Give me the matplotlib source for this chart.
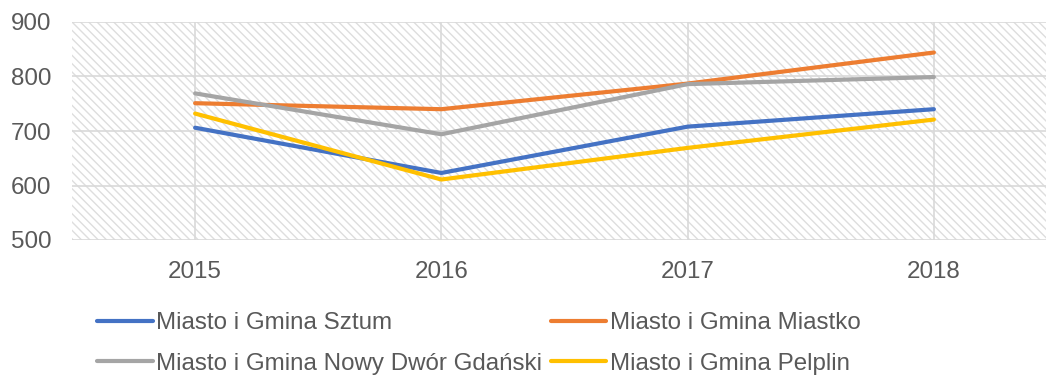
import numpy as np
import matplotlib.pyplot as plt
from matplotlib.patches import Rectangle

plt.rcParams['font.family'] = ['Liberation Sans', 'DejaVu Sans']
plt.rcParams['hatch.linewidth'] = 1.0
plt.rcParams['hatch.color'] = '#dedede'

years = ['2015', '2016', '2017', '2018']
sztum = [706, 623, 708, 740]
miastko = [751, 740, 787, 844]
nowy_dwor = [769, 694, 786, 799]
pelplin = [732, 611, 669, 721]

labels = ['Miasto i Gmina Sztum', 'Miasto i Gmina Miastko',
          'Miasto i Gmina Nowy Dwór Gdański', 'Miasto i Gmina Pelplin']
colors = ['#4472C4', '#ED7D31', '#A5A5A5', '#FFC000']
series = [sztum, miastko, nowy_dwor, pelplin]

W, H = 1046, 376
fig = plt.figure(figsize=(W / 100, H / 100), dpi=100)
ax = fig.add_axes([72 / W, 1 - 240 / H, 985 / W, 218 / H])

# hatched plot area
ax.add_patch(Rectangle((0, 0), 1, 1, transform=ax.transAxes, facecolor='white',
                       hatch='\\\\\\\\', edgecolor='#dedede', linewidth=0, zorder=0))

x = np.arange(len(years))
handles = []
for vals, lab, col in zip(series, labels, colors):
    h, = ax.plot(x, vals, color=col, linewidth=3.0, label=lab,
                 solid_capstyle='round', zorder=3)
    handles.append(h)

ax.set_xlim(-0.5, 3.5)
ax.set_ylim(500, 900)
ax.set_yticks(range(500, 901, 100))
ax.set_xticks(x)
ax.set_xticklabels(years)
ax.set_axisbelow(True)
ax.grid(True, color='#d9d9d9', linewidth=1.2)
for s in ax.spines.values():
    s.set_visible(False)
ax.tick_params(length=0, labelsize=17.4, colors='#595959')
ax.tick_params(axis='y', pad=15)
ax.tick_params(axis='x', pad=15)

order = [0, 2, 1, 3]
fig.legend([handles[i] for i in order], [labels[i] for i in order],
           ncol=2, loc='upper left', bbox_to_anchor=(97 / W, 1 - 312 / H),
           frameon=False, fontsize=17.4, handlelength=2.3, handletextpad=0.15,
           columnspacing=0.35, labelspacing=0.78, labelcolor='#595959',
           borderaxespad=0, borderpad=0)

fig.savefig('out.png', dpi=100)
